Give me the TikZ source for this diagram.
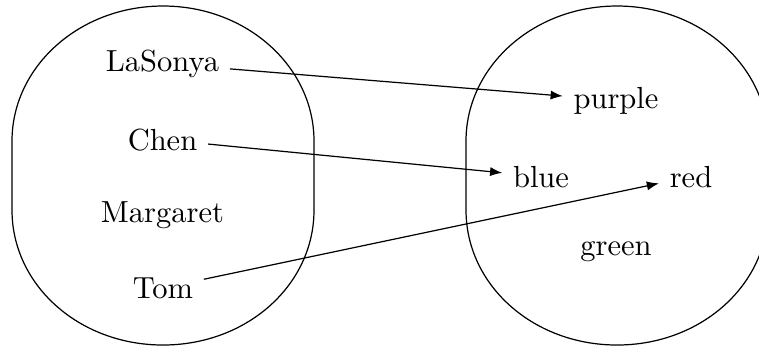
\documentclass[tikz,border=0pt]{standalone}
\usetikzlibrary{arrows.meta}
\begin{document}
\begin{tikzpicture}[x=0.3278pt,y=-0.3278pt,
  setbox/.style={draw,line width=0.4pt},
  word/.style={anchor=base,inner sep=3.33pt},
  link/.style={-{Latex[length=4pt,width=3pt]},line width=0.4pt}]
\useasboundingbox (0,0) rectangle (759,349);
\draw[setbox] (12,210) -- (12,141)
  .. controls (12,67) and (79,6) .. (163,6)
  .. controls (247,6) and (314,67) .. (314,141)
  -- (314,210)
  .. controls (314,285) and (247,345) .. (163,345)
  .. controls (79,345) and (12,285) .. (12,210) -- cycle;
\draw[setbox] (466,210) -- (466,141)
  .. controls (466,67) and (533,6) .. (617,6)
  .. controls (701,6) and (768,67) .. (768,141)
  -- (768,210)
  .. controls (768,285) and (701,345) .. (617,345)
  .. controls (533,345) and (466,285) .. (466,210) -- cycle;
\node[word] (lasonya) at (162.5,71) {LaSonya};
\node[word] (chen) at (162.5,150) {Chen};
\node[word] (margaret) at (162.5,222) {Margaret};
\node[word] (tom) at (163,298) {Tom};
\node[word] (purple) at (616,108) {purple};
\node[word] (blue) at (541,187) {blue};
\node[word] (red) at (691,187) {red};
\node[word] (green) at (616,255) {green};
\draw[link] (lasonya) -- (purple);
\draw[link] (chen) -- (blue);
\draw[link] (tom) -- (red);
\end{tikzpicture}
\end{document}
